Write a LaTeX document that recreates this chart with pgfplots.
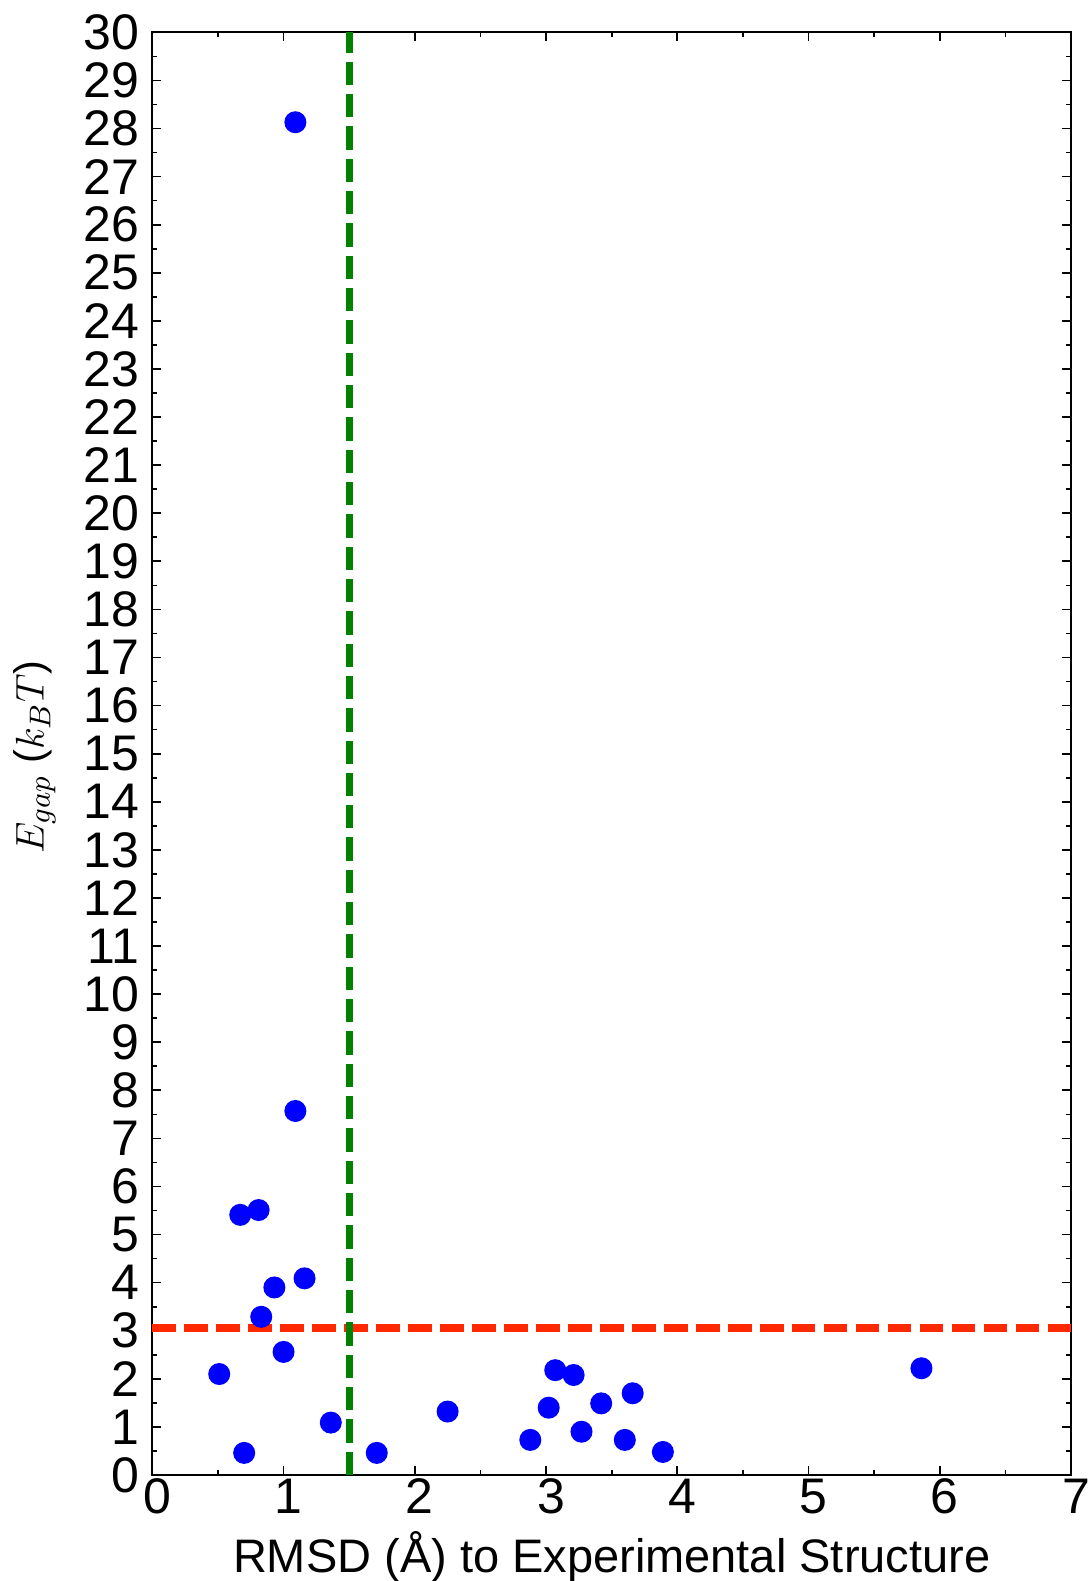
\documentclass[border=0pt]{standalone}
\usepackage{pgfplots}
\pgfplotsset{compat=1.18}
\usepackage{fontspec}
\setmainfont{Liberation Sans}
\definecolor{myblue}{RGB}{0,0,255}
\definecolor{myred}{RGB}{255,40,0}
\definecolor{mygreen}{RGB}{0,130,0}
\begin{document}
\begin{tikzpicture}
\begin{axis}[
  scale only axis,
  width=275.7pt, height=432.9pt,
  xmin=0, xmax=7, ymin=0, ymax=30,
  xtick={0,...,7}, ytick={0,...,30},
  minor x tick num=1, minor y tick num=1,
  tick align=inside,
  major tick length=2.6pt, minor tick length=1.4pt,
  every tick/.style={black, line width=0.5pt},
  axis line style={line width=0.6pt},
  /pgf/number format/assume math mode=true,
  ticklabel style={font=\fontsize{15}{16}\selectfont},
  yticklabel style={xshift=-0.3pt},
  xticklabel style={yshift=2.4pt, xshift=1.5pt},
  xlabel={RMSD (Å) to Experimental Structure},
  xlabel style={font=\fontsize{14.1}{15}\selectfont, yshift=1.8pt},
  ylabel={$E_{gap}$ ($k_BT$)},
  ylabel style={font=\fontsize{12.4}{13}\selectfont, yshift=1.7pt, xshift=-1pt},
  clip=false,
]
\coordinate (ll) at (rel axis cs:0,0);
\coordinate (ur) at (rel axis cs:1,1);
\addplot[myred, line width=2.2pt, dash pattern=on 7pt off 2.6pt] coordinates {(0,3.06) (7,3.06)};
\addplot[mygreen, line width=2pt, dash pattern=on 7pt off 2.7pt] coordinates {(1.5,0) (1.5,30)};
\addplot[only marks, mark=*, mark size=3.1pt, color=myblue, mark options={fill=myblue, draw=myblue}] coordinates {
(1.09,28.13)
(1.09,7.57)
(0.67,5.41)
(0.81,5.51)
(0.93,3.90)
(1.16,4.09)
(0.83,3.29)
(1.00,2.56)
(0.51,2.10)
(0.70,0.46)
(1.36,1.09)
(1.71,0.46)
(2.25,1.32)
(2.88,0.73)
(3.02,1.40)
(3.07,2.18)
(3.21,2.08)
(3.27,0.90)
(3.42,1.49)
(3.60,0.73)
(3.66,1.70)
(3.89,0.48)
(5.86,2.22)
};
\end{axis}
\pgfresetboundingbox
\path[use as bounding box] ([shift={(-45.7pt,-31.8pt)}]ll) rectangle ([shift={(5.4pt,9.7pt)}]ur);
\end{tikzpicture}
\end{document}
